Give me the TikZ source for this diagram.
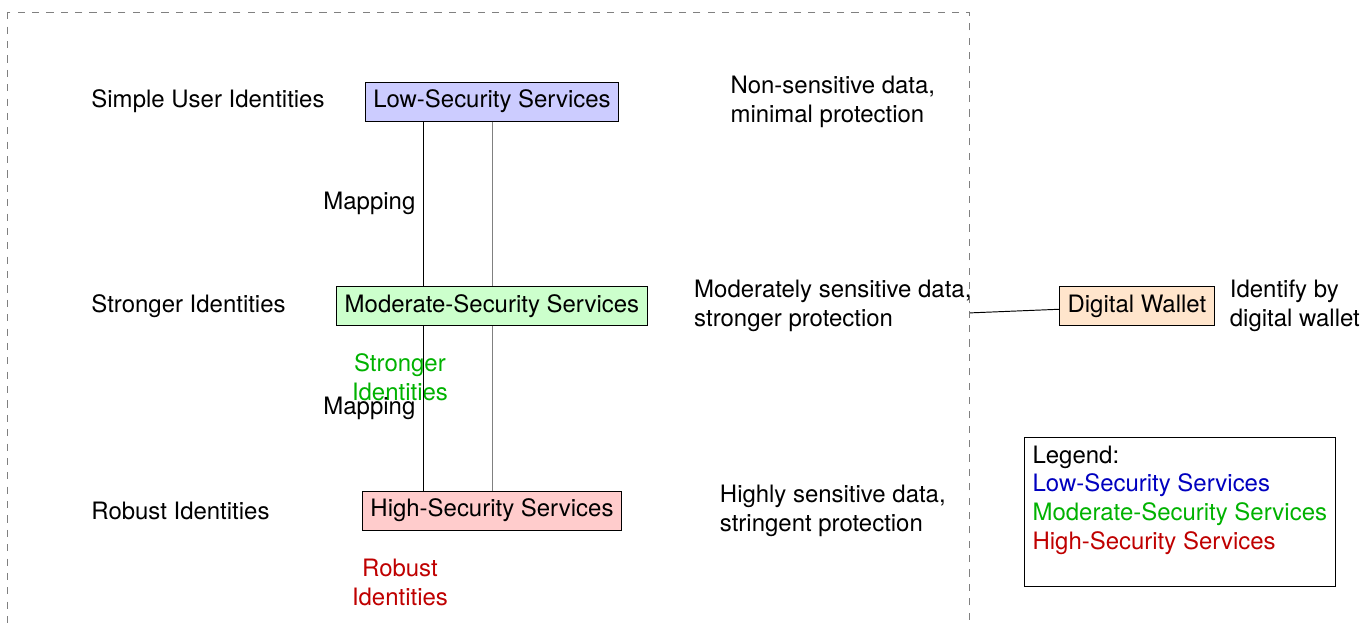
\documentclass[tikz,border=0pt]{standalone}
\usepackage{fontspec}
\setmainfont{TeX Gyre Heros}
\usetikzlibrary{positioning}
\tikzstyle{service} = [rectangle, draw, text centered]
\tikzstyle{level} = [anchor=west]
\tikzstyle{desc} = [align=left]
\tikzstyle{tag} = [align=center]

\begin{document}
\begin{tikzpicture}[auto]
    \clip (-7.217,4.49) rectangle (12.777,-4.649);
    \draw[gray, dashed] (-7.11,4.31) rectangle (7.01,-5);

    \node[service, fill=blue!20] (low) at (0,3) {Low-Security Services};
    \node[service, fill=green!20] (mod) at (0,0) {Moderate-Security Services};
    \node[service, fill=red!20] (high) at (0,-3) {High-Security Services};

    \node[level] (simple) at (-6,3) {Simple User Identities};
    \node[level] (stronger) at (-6,0) {Stronger Identities};
    \node[level] (robust) at (-6,-3) {Robust Identities};

    \node[desc] (lowdesc) at (5,3) {Non-sensitive data,\\minimal protection};
    \node[desc] (moddesc) at (5,0) {Moderately sensitive data,\\stronger protection};
    \node[desc] (highdesc) at (5,-3) {Highly sensitive data,\\stringent protection};

    \node[tag, text=green!70!black] (strongtag) at (-1.35,-1.04) {Stronger\\Identities};
    \node[tag, text=red!75!black] (robusttag) at (-1.35,-4.05) {Robust\\Identities};

    \node[service, fill=orange!20] (wallet) at (9.46,0) {Digital Wallet};
    \node[desc, right=0.1cm of wallet] (walletdesc) {Identify by\\digital wallet};
    \coordinate (frameside) at (7.01,-0.1);

    \node[rectangle, draw, align=left] (legend) at (10.09,-3.02) {Legend:\\
        \textcolor{blue!75!black}{Low-Security Services}\\
        \textcolor{green!70!black}{Moderate-Security Services}\\
        \textcolor{red!75!black}{High-Security Services}\\ \mbox{}};

    \draw ([xshift=-1cm]low.south) -- node[swap] {Mapping} ([xshift=-1cm]mod.north);
    \draw ([xshift=-1cm]mod.south) -- node[swap] {Mapping} ([xshift=-1cm]high.north);
    \draw[gray] (low) -- (mod);
    \draw[gray] (mod) -- (high);
    \draw (frameside) -- (wallet);
\end{tikzpicture}
\end{document}
